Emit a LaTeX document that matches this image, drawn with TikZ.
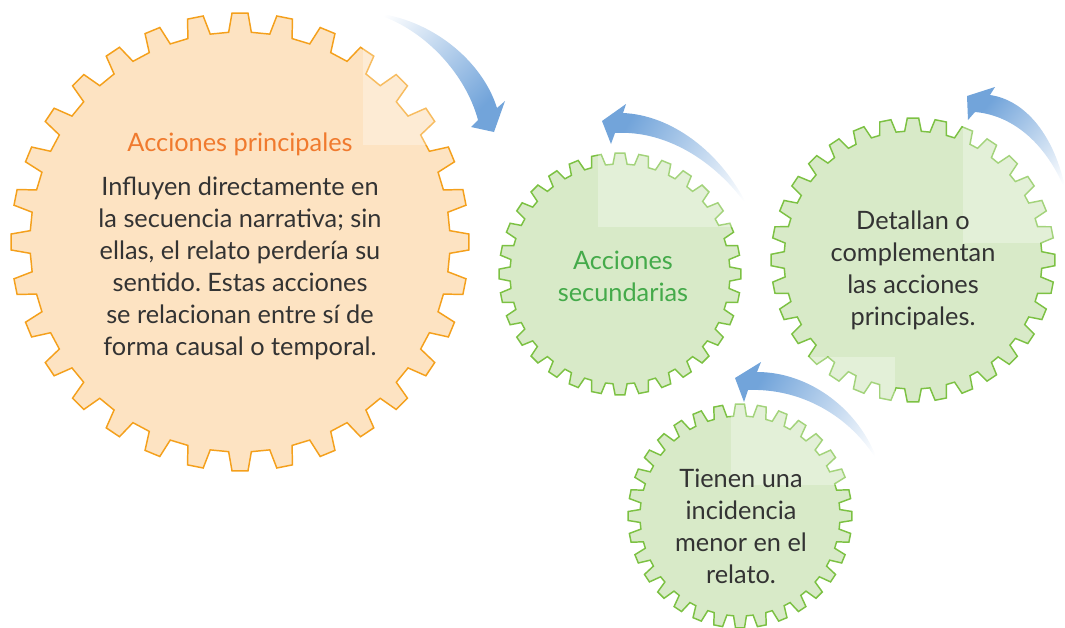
\documentclass[tikz,border=0pt]{standalone}
\usepackage{fontspec}
\setmainfont{Lato}
\frenchspacing
\definecolor{peach}{HTML}{FDE3C2}
\definecolor{gearorange}{HTML}{F4A01C}
\definecolor{titleorange}{HTML}{F07A2E}
\definecolor{mint}{HTML}{D8EAC8}
\definecolor{geargreen}{HTML}{7CC143}
\definecolor{titlegreen}{HTML}{44AA4A}
\definecolor{arrowblue}{HTML}{72A4DA}
\definecolor{txt}{HTML}{333333}
\pgfdeclarehorizontalshading{arrowshade}{100bp}{color(0bp)=(white); color(18bp)=(white); color(72bp)=(arrowblue); color(100bp)=(arrowblue)}
% #1 style, #2 cx, #3 cy, #4 outer r, #5 root r, #6 tip half-angle, #7 root half-angle
\newcommand\mygear[7]{%
  \draw[#1, shift={(#2,#3)}] (90-#7:#5)
    \foreach \i in {0,...,31}{
      -- ({90+\i*11.25-#7}:#5) -- ({90+\i*11.25-#6}:#4)
      -- ({90+\i*11.25+#6}:#4) -- ({90+\i*11.25+#7}:#5)} -- cycle;}
\begin{document}
\begin{tikzpicture}[x=0.75pt,y=-0.75pt,
  gearO/.style={fill=peach,draw=gearorange,line width=1.1pt,line join=miter},
  gearG/.style={fill=mint,draw=geargreen,line width=1.1pt,line join=miter},
  lightbox/.style={fill=white,fill opacity=0.3,draw=none},
  curvedarrow/.style={shading=arrowshade,draw=none},
  bodytext/.style={align=center,text=txt,font=\fontsize{19}{24}\selectfont,inner sep=0pt},
  titletext/.style={align=center,font=\fontsize{19}{24}\selectfont,inner sep=0pt}]
\useasboundingbox (0,0) rectangle (1065,628);
% gears
\mygear{gearO}{240}{242}{229}{210}{2.0}{3.1}
\mygear{gearG}{620}{274}{121}{110}{2.3}{3.7}
\mygear{gearG}{913}{260}{142}{129}{2.3}{3.7}
\mygear{gearG}{740}{516}{112}{100}{2.3}{3.7}
% light backgrounds of the arrows
\fill[lightbox] (363,0) rectangle (510,145);
\fill[lightbox] (598,95) rectangle (750,227);
\fill[lightbox] (963,70) rectangle (1065,243);
\fill[lightbox] (731,357) rectangle (895,485);
% curved arrows
\shade[curvedarrow,shading angle=-45]
  (373,13) .. controls (430,18) and (482,60) .. (497,108) -- (505,101) -- (494,132)
  -- (471,127) -- (478,120) .. controls (466,75) and (425,28) .. (373,13) -- cycle;
\shade[curvedarrow,shading angle=150]
  (748,207) .. controls (720,150) and (670,115) .. (623,113) -- (626,104) -- (602,121)
  -- (611,144) -- (615,133) .. controls (665,130) and (715,160) .. (748,207) -- cycle;
\shade[curvedarrow,shading angle=140]
  (1066,192) .. controls (1055,135) and (1025,100) .. (990,95) -- (995,87) -- (967,96)
  -- (968,120) -- (975,112) .. controls (1010,115) and (1045,140) .. (1066,192) -- cycle;
\shade[curvedarrow,shading angle=150]
  (878,462) .. controls (860,410) and (810,372) .. (757,372) -- (761,362) -- (735,378)
  -- (744,402) -- (748,390) .. controls (800,388) and (850,415) .. (878,462) -- cycle;
% texts
\node[titletext,text=titleorange] (ptitle) at (240,144) {Acciones principales};
\node[bodytext] (pbody) at (240,268) {Influyen directamente en\\la secuencia narrativa; sin\\ellas, el relato perdería su\\sentido. Estas acciones\\se relacionan entre sí de\\forma causal o temporal.};
\node[titletext,text=titlegreen] (stitle) at (623,276) {Acciones\\secundarias};
\node[bodytext] (sbody1) at (913,270) {Detallan o\\complementan\\las acciones\\principales.};
\node[bodytext] (sbody2) at (741,526) {Tienen una\\incidencia\\menor en el\\relato.};
\end{tikzpicture}
\end{document}
